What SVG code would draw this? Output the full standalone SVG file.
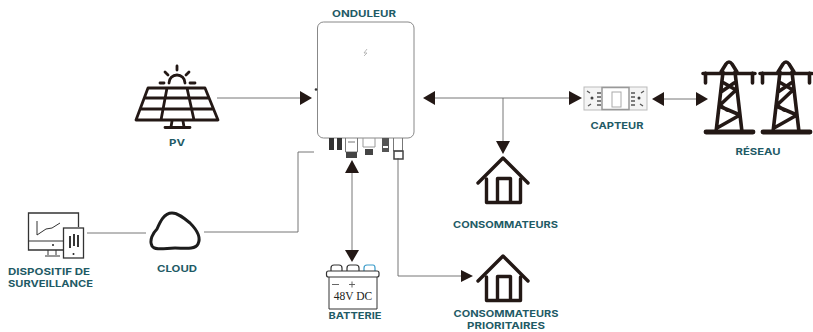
<svg xmlns="http://www.w3.org/2000/svg" width="813" height="332" viewBox="0 0 813 332">
<defs>
<style>
.lb{font-family:"Inter","Open Sans","Liberation Sans",sans-serif;font-weight:700;font-size:9.2px;fill:#1f5b66;text-anchor:middle}
.ln{fill:none;stroke:#666;stroke-width:.9}
.ic{fill:none;stroke:#231815;stroke-linecap:round;stroke-linejoin:round}
.ah{fill:#231815}
</style>
<g id="house"><path class="ic" stroke-width="3.400" d="M478 183L503 158L528 183"/><path class="ic" stroke-width="3.400" stroke-linecap="butt" d="M486.500 179V202.500H520.500V179M497.500 202.500V178.500H510.500V202.500"/></g>
<g id="pylon"><path class="ic" stroke-width="3.600" stroke-linejoin="miter" stroke-linecap="butt" d="M721 72L726 64Q729 60 732 64L737 72M723 72L716 132M735 72L742 132M703 73.500H755M705.500 73V83M752.500 73V83M724 83L736 90L719 106L740 115L717 128M734 83L721 92M721 106L727 110"/><path class="ic" stroke-width="4.800" d="M706 132H753"/></g>
</defs>
<rect width="813" height="332" fill="#fff"/>
<g id="connectors">
<path class="ln" d="M217 98H302"/><polygon class="ah" points="312,98 300,91 300,105"/>
<path class="ln" d="M434 98H570"/><polygon class="ah" points="423,98 435,91 435,105"/><polygon class="ah" points="582,98 569,91 569,105"/>
<path class="ln" d="M503 98V142"/><polygon class="ah" points="503,154 496,141 510,141"/>
<path class="ln" d="M663 99H697"/><polygon class="ah" points="652,99 664,92 664,106"/><polygon class="ah" points="708,99 696,92 696,106"/>
<path class="ln" d="M352 172V251"/><polygon class="ah" points="352,160 345,173 359,173"/><polygon class="ah" points="352,262 345,250 359,250"/>
<path class="ln" d="M398 158V276H462"/><polygon class="ah" points="473,276 461,270 461,282"/>
<path class="ln" d="M314 152H298V232H204"/>
<path class="ln" d="M87 233H146"/>
</g>
<g id="onduleur">
<rect x="317.500" y="22" width="96.500" height="116" rx="6" fill="#fff" stroke="#888" stroke-width="1"/>
<circle cx="316" cy="89.500" r="1.300" fill="#333"/>
<path d="M367 49L364 53H367L364 56" fill="none" stroke="#aaa" stroke-width=".8"/>
<rect x="329" y="138" width="5" height="12" fill="#333"/><rect x="337" y="138" width="5" height="12" fill="#333"/>
<path d="M345.500 138V152H357.500V138M348 142H355" fill="none" stroke="#777"/><rect x="346" y="152" width="11" height="6" fill="#444"/>
<path d="M363 138V147H375V138" fill="none" stroke="#999"/><rect x="365" y="149" width="8" height="6" fill="#444"/>
<rect x="382" y="138" width="7" height="14" fill="#555"/><rect x="383" y="146" width="5" height="2" fill="#fff"/>
<path d="M393.500 138V151H402.500V138" fill="none" stroke="#777"/><rect x="394" y="151" width="9" height="8" fill="none" stroke="#444" stroke-width="1.500"/>
<text class="lb" x="364" y="17" textLength="64" lengthAdjust="spacingAndGlyphs">ONDULEUR</text>
</g>
<g id="pv">
<path class="ic" stroke-width="2.800" d="M148 88H205L218 120H136ZM144.500 98H209M140.500 109H213.500M167 88L161 120M187 88L194 120"/>
<path class="ic" stroke-width="2.800" d="M172 121L171 127M183 121L184 127M165 127.500H190"/>
<path class="ic" stroke-width="2.800" d="M169 83A8 8 0 0 1 185 83M160 83H164M190 83H195M165 72L168 75M189 72L186 75M177 66V70"/>
<text class="lb" x="177" y="146" textLength="16" lengthAdjust="spacingAndGlyphs">PV</text>
</g>
<g id="capteur">
<rect x="584" y="87" width="63" height="23" fill="#f4f4f4" stroke="#bbb"/>
<rect x="602" y="87.500" width="27" height="22" fill="#fff" stroke="#999" stroke-width="1.500"/>
<rect x="612" y="92" width="9" height="15" fill="#fff" stroke="#aaa"/>
<circle cx="592" cy="98" r="1.500" fill="#444"/><circle cx="639" cy="98" r="1.500" fill="#444"/>
<path d="M587 91l3 2M588 106l3-2M644 91l-3 2M643 106l-3-2M597 93h4M597 97h4M597 101h4M597 105h4M631 93h4M631 97h4M631 101h4M631 105h4" fill="none" stroke="#555" stroke-width="1.300"/>
<text class="lb" x="617" y="129" textLength="53" lengthAdjust="spacingAndGlyphs">CAPTEUR</text>
</g>
<g id="reseau">
<use href="#pylon"/><use href="#pylon" x="57"/>
<text class="lb" x="758" y="155" textLength="45" lengthAdjust="spacingAndGlyphs">RÉSEAU</text>
</g>
<g id="consommateurs">
<use href="#house"/>
<text class="lb" x="505.500" y="228" textLength="105" lengthAdjust="spacingAndGlyphs">CONSOMMATEURS</text>
</g>
<g id="consommateurs-prioritaires">
<use href="#house" y="98"/>
<text class="lb" x="506" y="317" textLength="105" lengthAdjust="spacingAndGlyphs">CONSOMMATEURS</text>
<text class="lb" x="506" y="329" textLength="78" lengthAdjust="spacingAndGlyphs">PRIORITAIRES</text>
</g>
<g id="batterie">
<path d="M331 271V268Q331 265 334 265H339Q342 265 342 268V271M347 271V268Q347 265 350 265H356Q359 265 359 268V271" fill="none" stroke="#333" stroke-width="1.200"/>
<path d="M364 271V268Q364 265 367 265H373Q375 265 375 268V271" fill="none" stroke="#3a9bc9" stroke-width="1.200"/>
<rect x="326.500" y="271" width="52.500" height="6" rx="2" fill="#fff" stroke="#333" stroke-width="1.200"/>
<path d="M329 277V309H377V277" fill="none" stroke="#333"/>
<path d="M332 284.500H339M349 284.500H355M352 281.500V287.500" fill="none" stroke="#555" stroke-width=".9"/>
<text x="353" y="300" font-family="Liberation Serif,serif" font-size="11.500" fill="#222" text-anchor="middle">48V DC</text>
<text class="lb" x="355" y="319" textLength="53" lengthAdjust="spacingAndGlyphs">BATTERIE</text>
</g>
<g id="cloud">
<path d="M152 246C149 240 153 233 157 229C160 222 164 213 172 213C178 213 184 218 190 223C195 228 202 236 198 244C195 250 184 248 175 248C166 248 155 251 152 246Z" fill="none" stroke="#1c1c1c" stroke-width="3"/>
<text class="lb" x="177" y="272" textLength="40" lengthAdjust="spacingAndGlyphs">CLOUD</text>
</g>
<g id="surveillance">
<path d="M63 250H28.500V213H78.500V227" fill="none" stroke="#333" stroke-width="1.300"/>
<path d="M29 241H63M37 221V235L46 229L52 228L60 223M48 250V255M56 250V255M45 256H60" fill="none" stroke="#333" stroke-width="1"/>
<circle cx="53" cy="245" r="1" fill="#222"/>
<rect x="63.500" y="228" width="20" height="30" fill="#fff" stroke="#333" stroke-width="1.300"/>
<path d="M70 236V248M74 234V246M78 235V247" stroke="#222" stroke-width="1.800" fill="none"/>
<circle cx="73.500" cy="254" r="1" fill="#222"/>
<text class="lb" x="49" y="275" textLength="82" lengthAdjust="spacingAndGlyphs">DISPOSITIF DE</text>
<text class="lb" x="50.500" y="287" textLength="85" lengthAdjust="spacingAndGlyphs">SURVEILLANCE</text>
</g>
</svg>
